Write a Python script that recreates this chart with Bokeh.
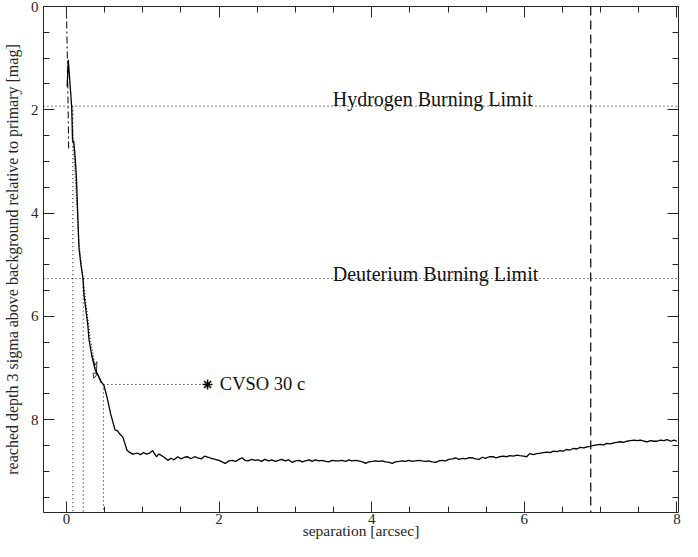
from bokeh.plotting import figure
from bokeh.models import Range1d, LinearAxis, SingleIntervalTicker, Span, CustomLabelingPolicy
from bokeh.core.properties import value
from bokeh.embed import file_html
from bokeh.resources import INLINE

# ---- data ----
sep = [0.010, 0.025, 0.050, 0.070, 0.080, 0.087, 0.095, 0.110, 0.130, 0.165, 0.190, 0.217,
       0.230, 0.280, 0.296, 0.330, 0.360, 0.380, 0.420, 0.460, 0.490, 0.530, 0.580, 0.637,
       0.670, 0.700, 0.740, 0.795, 0.825, 0.870, 0.930,
       0.97, 1.01, 1.05, 1.09, 1.13, 1.18, 1.21, 1.24, 1.29, 1.33, 1.37, 1.41, 1.46, 1.50,
       1.55, 1.59, 1.63, 1.68, 1.72, 1.77, 1.81, 1.86, 1.90, 1.95, 2.00, 2.04, 2.08, 2.13,
       2.17, 2.22, 2.26, 2.30, 2.34, 2.38, 2.43, 2.47, 2.51, 2.56, 2.60, 2.65, 2.69, 2.74,
       2.78, 2.82, 2.87, 2.91, 2.96, 3.00, 3.05, 3.09, 3.13, 3.18, 3.22, 3.26, 3.31, 3.35,
       3.40, 3.44, 3.48, 3.53, 3.57, 3.61, 3.66, 3.70, 3.74, 3.79, 3.83, 3.88, 3.92, 3.96,
       4.01, 4.05, 4.09, 4.14, 4.18, 4.23, 4.27, 4.31, 4.36, 4.40, 4.44, 4.49, 4.53, 4.57,
       4.62, 4.66, 4.71, 4.75, 4.79, 4.84, 4.88, 4.92, 4.97, 5.01, 5.06, 5.10, 5.14, 5.19,
       5.23, 5.27, 5.32, 5.36, 5.41, 5.45, 5.49, 5.54, 5.59, 5.63, 5.68, 5.72, 5.77, 5.81,
       5.86, 5.90, 5.94, 5.99, 6.03, 6.07, 6.12, 6.16, 6.21, 6.25, 6.30, 6.34, 6.38, 6.43,
       6.47, 6.51, 6.55, 6.60, 6.64, 6.69, 6.73, 6.78, 6.82, 6.86, 6.91, 6.95, 6.99, 7.04,
       7.08, 7.13, 7.17, 7.21, 7.26, 7.30, 7.34, 7.39, 7.44, 7.48, 7.52, 7.57, 7.61, 7.65,
       7.70, 7.74, 7.78, 7.83, 7.87, 7.92, 7.96, 8.00]
depth = [1.55, 1.03, 1.55, 1.96, 2.57, 2.63, 2.60, 2.83, 3.27, 4.68, 5.00, 5.26,
         5.58, 6.16, 6.45, 6.74, 6.93, 7.05, 7.15, 7.28, 7.33, 7.55, 7.89, 8.20,
         8.22, 8.28, 8.34, 8.60, 8.63, 8.67, 8.65,
         8.68, 8.64, 8.67, 8.65, 8.60, 8.72, 8.67, 8.69, 8.74, 8.79, 8.75, 8.78, 8.72, 8.76,
         8.73, 8.72, 8.76, 8.72, 8.74, 8.76, 8.71, 8.73, 8.75, 8.77, 8.79, 8.82, 8.85, 8.80,
         8.79, 8.81, 8.77, 8.74, 8.79, 8.80, 8.77, 8.79, 8.78, 8.81, 8.77, 8.80, 8.78, 8.81,
         8.79, 8.77, 8.80, 8.78, 8.83, 8.80, 8.79, 8.82, 8.80, 8.78, 8.81, 8.78, 8.80, 8.79,
         8.81, 8.82, 8.79, 8.80, 8.80, 8.79, 8.81, 8.78, 8.80, 8.79, 8.80, 8.82, 8.85, 8.82,
         8.81, 8.80, 8.81, 8.80, 8.82, 8.83, 8.85, 8.82, 8.81, 8.80, 8.81, 8.79, 8.81, 8.80,
         8.79, 8.80, 8.81, 8.80, 8.82, 8.83, 8.80, 8.79, 8.80, 8.77, 8.76, 8.74, 8.77, 8.75,
         8.76, 8.74, 8.74, 8.76, 8.77, 8.73, 8.75, 8.72, 8.72, 8.74, 8.72, 8.71, 8.72, 8.70,
         8.71, 8.69, 8.70, 8.71, 8.72, 8.66, 8.68, 8.66, 8.65, 8.64, 8.63, 8.64, 8.61, 8.62,
         8.60, 8.61, 8.58, 8.59, 8.56, 8.57, 8.54, 8.55, 8.53, 8.52, 8.50, 8.49, 8.48, 8.49,
         8.46, 8.47, 8.45, 8.44, 8.43, 8.44, 8.42, 8.41, 8.40, 8.41, 8.40, 8.42, 8.43, 8.41,
         8.42, 8.42, 8.40, 8.41, 8.39, 8.42, 8.40, 8.42]

# secondary (dotted) contrast curve near the primary
sep_dotted = [0.070, 0.090, 0.115, 0.160, 0.220, 0.260, 0.310, 0.380, 0.450]
depth_dotted = [1.96, 2.60, 3.27, 4.50, 5.30, 5.80, 6.40, 7.00, 7.30]

# dash-dot curve at the very centre
sep_dashdot = [0.000, 0.015, 0.030]
depth_dashdot = [0.00, 1.20, 2.75]

# thin solid curl
sep_thin = [0.330, 0.370, 0.400, 0.390, 0.360, 0.350, 0.400, 0.430, 0.470]
depth_thin = [6.74, 6.95, 6.88, 7.15, 7.20, 7.10, 7.10, 7.20, 7.30]

h_limit = 1.93
d_limit = 5.27
cvso_sep = 1.85
cvso_depth = 7.32
outer_sep = 6.87

cross_sep = [0.085, 0.22, 0.485]
cross_depth = [h_limit, d_limit, cvso_depth]

x_ticks_interval = 2
y_ticks_interval = 2

FONT = "Liberation Serif"
AX = "#262626"

p = figure(width=682, height=541, output_backend="svg", toolbar_location=None,
           x_range=Range1d(-0.3, 8.02), y_range=Range1d(9.8, 0.0),
           min_border_left=38, min_border_right=4, min_border_top=6, min_border_bottom=28)
p.outline_line_color = None
p.xgrid.visible = False
p.ygrid.visible = False
p.background_fill_color = "white"

xt = SingleIntervalTicker(interval=x_ticks_interval, num_minor_ticks=4)
yt = SingleIntervalTicker(interval=y_ticks_interval, num_minor_ticks=4)

def style_axis(ax):
    ax.major_tick_in = 11
    ax.major_tick_out = 0
    ax.minor_tick_in = 6
    ax.minor_tick_out = 0
    ax.axis_line_color = AX
    ax.major_tick_line_color = AX
    ax.minor_tick_line_color = AX
    ax.major_label_text_font = FONT
    ax.major_label_text_color = AX
    ax.major_label_text_font_size = "15px"
    ax.axis_label_text_font = FONT
    ax.axis_label_text_font_style = "normal"
    ax.axis_label_text_color = AX

p.xaxis.ticker = xt
p.yaxis.ticker = yt
for ax in p.xaxis:
    style_axis(ax)
    ax.major_label_standoff = 1
    ax.axis_label_standoff = -5
    ax.axis_label_text_font_size = "15.5px"
for ax in p.yaxis:
    style_axis(ax)
    ax.major_label_standoff = 5
    ax.axis_label_standoff = 7
    ax.axis_label_text_font_size = "16px"
p.xaxis.axis_label = "separation [arcsec]"
p.yaxis.axis_label = "reached depth 3 sigma above background relative to primary [mag]"

no_labels = "return new Set()"
top = LinearAxis(ticker=SingleIntervalTicker(interval=x_ticks_interval, num_minor_ticks=4),
                 major_label_policy=CustomLabelingPolicy(code=no_labels))
style_axis(top)
top.major_label_standoff = 0
top.major_label_text_font_size = "1px"
p.add_layout(top, "above")
right = LinearAxis(ticker=SingleIntervalTicker(interval=y_ticks_interval, num_minor_ticks=4),
                   major_label_policy=CustomLabelingPolicy(code=no_labels))
style_axis(right)
right.major_label_standoff = 0
right.major_label_text_font_size = "1px"
p.add_layout(right, "right")

# limits
for loc in (h_limit, d_limit):
    p.add_layout(Span(location=loc, dimension="width", line_color="black",
                      line_width=1, line_dash="1 3"))
p.add_layout(Span(location=outer_sep, dimension="height", line_color="black",
                  line_width=1.2, line_dash="9 5"))

# vertical dotted markers down from the curve crossings
p.segment(x0=cross_sep, y0=cross_depth, x1=cross_sep, y1=[9.8] * len(cross_sep),
          line_color="black", line_width=1, line_dash="1 3")
# horizontal dotted to companion
p.segment(x0=[cross_sep[2]], y0=[cvso_depth], x1=[cvso_sep], y1=[cvso_depth],
          line_color="black", line_width=1, line_dash="1 3")

# curves
p.line(sep_dashdot, depth_dashdot, line_color="black", line_width=1, line_dash="7 3 2 3")
p.line(sep_dotted, depth_dotted, line_color="black", line_width=1, line_dash="1 2")
p.line(sep_thin, depth_thin, line_color="black", line_width=0.8)
p.line(sep, depth, line_color="black", line_width=1.3)

# companion
p.scatter([cvso_sep], [cvso_depth], marker="asterisk", size=10, line_color="black", line_width=1.5)
p.text([cvso_sep + 0.16], [cvso_depth], text=["CVSO 30 c"], text_font=value(FONT),
       text_font_size="18.5px", text_baseline="middle", text_align="left", text_color="#111111")
p.text([3.49, 3.49], [h_limit - 0.14, d_limit - 0.09],
       text=["Hydrogen Burning Limit", "Deuterium Burning Limit"], text_font=value(FONT),
       text_font_size="20px", text_baseline="alphabetic", text_align="left", text_color="#111111")

open("out.html", "w").write(file_html(p, INLINE))
